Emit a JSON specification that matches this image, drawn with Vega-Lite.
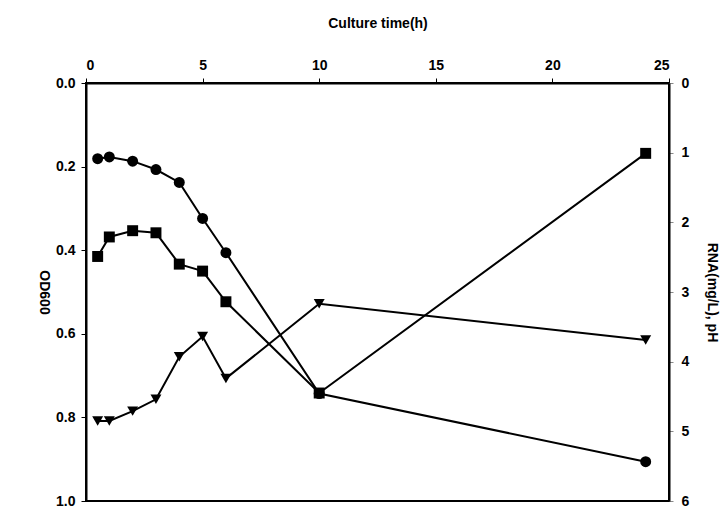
{
  "$schema": "https://vega.github.io/schema/vega-lite/v6.json",
  "width": 583,
  "height": 418,
  "autosize": "none",
  "padding": {"left": 86, "top": 83, "right": 55, "bottom": 8},
  "background": "white",
  "config": {
    "view": {"stroke": "black", "strokeWidth": 2},
    "font": "Liberation Sans",
    "axis": {
      "grid": false,
      "domainColor": "black",
      "domainWidth": 2,
      "tickColor": "black",
      "tickSize": 5,
      "labelFont": "Liberation Sans",
      "labelFontSize": 14,
      "labelFontWeight": "bold",
      "labelColor": "black",
      "titleFont": "Liberation Sans",
      "titleFontSize": 14,
      "titleFontWeight": "bold",
      "titleColor": "black"
    }
  },
  "datasets": {
    "od": [
      {"time": 0.5, "od": 0.181},
      {"time": 1, "od": 0.177},
      {"time": 2, "od": 0.187},
      {"time": 3, "od": 0.207},
      {"time": 4, "od": 0.238},
      {"time": 5, "od": 0.324},
      {"time": 6, "od": 0.406},
      {"time": 10, "od": 0.743},
      {"time": 24, "od": 0.906}
    ],
    "right": [
      {"time": 0.5, "v": 2.49, "series": "RNA"},
      {"time": 1, "v": 2.21, "series": "RNA"},
      {"time": 2, "v": 2.12, "series": "RNA"},
      {"time": 3, "v": 2.15, "series": "RNA"},
      {"time": 4, "v": 2.6, "series": "RNA"},
      {"time": 5, "v": 2.7, "series": "RNA"},
      {"time": 6, "v": 3.14, "series": "RNA"},
      {"time": 10, "v": 4.45, "series": "RNA"},
      {"time": 24, "v": 1.01, "series": "RNA"},
      {"time": 0.5, "v": 4.85, "series": "pH"},
      {"time": 1, "v": 4.85, "series": "pH"},
      {"time": 2, "v": 4.71, "series": "pH"},
      {"time": 3, "v": 4.54, "series": "pH"},
      {"time": 4, "v": 3.93, "series": "pH"},
      {"time": 5, "v": 3.64, "series": "pH"},
      {"time": 6, "v": 4.24, "series": "pH"},
      {"time": 10, "v": 3.17, "series": "pH"},
      {"time": 24, "v": 3.69, "series": "pH"}
    ]
  },
  "encoding": {
    "x": {
      "field": "time",
      "type": "quantitative",
      "scale": {"domain": [0, 25], "nice": false},
      "axis": {
        "orient": "top",
        "values": [0, 5, 10, 15, 20, 25],
        "title": "Culture time(h)",
        "labelPadding": 6,
        "titlePadding": 28
      }
    }
  },
  "layer": [
    {
      "data": {"name": "od"},
      "encoding": {
        "y": {
          "field": "od",
          "type": "quantitative",
          "scale": {"domain": [0, 1], "reverse": true, "nice": false},
          "axis": {
            "orient": "left",
            "values": [0, 0.2, 0.4, 0.6, 0.8, 1.0],
            "format": ".1f",
            "title": "OD600",
            "titleAngle": 90,
            "labelPadding": 6,
            "titlePadding": 19
          }
        }
      },
      "layer": [
        {"mark": {"type": "line", "color": "black", "strokeWidth": 2}},
        {"mark": {"type": "point", "shape": "circle", "filled": true, "color": "black", "opacity": 1, "size": 120}}
      ]
    },
    {
      "data": {"name": "right"},
      "encoding": {
        "y": {
          "field": "v",
          "type": "quantitative",
          "scale": {"domain": [0, 6], "reverse": true, "nice": false},
          "axis": {
            "orient": "right",
            "values": [0, 1, 2, 3, 4, 5, 6],
            "format": "d",
            "title": "RNA(mg/L), pH",
            "titleAngle": 90,
            "labelPadding": 8,
            "titlePadding": 16,
            "tickColor": "#888888",
            "tickSize": 4
          }
        }
      },
      "layer": [
        {"mark": {"type": "line", "color": "black", "strokeWidth": 2}, "encoding": {"detail": {"field": "series"}}},
        {
          "mark": {"type": "point", "filled": true, "color": "black", "opacity": 1, "size": 120},
          "encoding": {
            "shape": {
              "field": "series",
              "type": "nominal",
              "scale": {"domain": ["RNA", "pH"], "range": ["square", "triangle-down"]},
              "legend": null
            }
          }
        }
      ]
    }
  ],
  "resolve": {"scale": {"y": "independent"}}
}
